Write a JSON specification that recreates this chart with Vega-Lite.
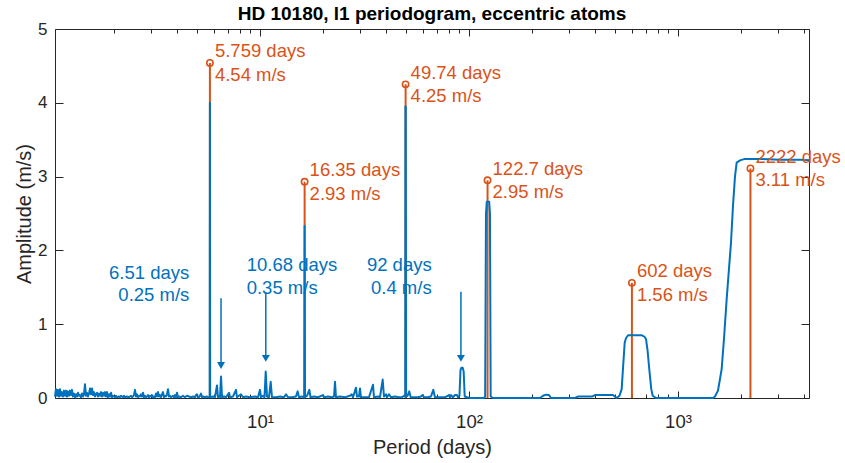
{
  "$schema": "https://vega.github.io/schema/vega-lite/v6.json",
  "width": 754,
  "height": 369,
  "autosize": {"type": "none"},
  "padding": {"left": 55, "top": 29, "right": 36, "bottom": 65},
  "background": "white",
  "title": {"text": "HD 10180, l1 periodogram, eccentric atoms", "font": "Liberation Sans", "fontSize": 19, "fontWeight": "bold", "color": "#000000", "offset": 4, "dy": 8, "anchor": "middle"},
  "config": {
    "view": {"stroke": "#262626", "strokeWidth": 1},
    "axis": {"grid": false, "domain": false, "labelFont": "Liberation Sans", "labelFontSize": 17, "labelColor": "#262626", "titleFont": "Liberation Sans", "titleFontSize": 20, "titleFontWeight": "normal", "titleColor": "#262626", "tickColor": "#262626", "tickWidth": 1}
  },
  "datasets": {
    "pgram": [
      {"p":1.045,"a":0.02},{"p":1.056,"a":0.12},{"p":1.068,"a":0.03},{"p":1.080,"a":0.11},{"p":1.092,"a":0.02},{"p":1.104,"a":0.12},{"p":1.116,"a":0.03},{"p":1.128,"a":0.08},{"p":1.141,"a":0.02},{"p":1.154,"a":0.10},{"p":1.167,"a":0.03},{"p":1.180,"a":0.10},{"p":1.193,"a":0.02},{"p":1.206,"a":0.09},{"p":1.219,"a":0.03},{"p":1.232,"a":0.10},{"p":1.246,"a":0.04},{"p":1.260,"a":0.11},{"p":1.274,"a":0.02},{"p":1.289,"a":0.06},{"p":1.303,"a":0.01},{"p":1.318,"a":0.05},{"p":1.332,"a":0.02},{"p":1.347,"a":0.07},{"p":1.361,"a":0.03},{"p":1.376,"a":0.04},{"p":1.392,"a":0.01},{"p":1.407,"a":0.06},{"p":1.423,"a":0.02},{"p":1.438,"a":0.05},{"p":1.454,"a":0.185},{"p":1.470,"a":0.03},{"p":1.487,"a":0.07},{"p":1.503,"a":0.02},{"p":1.520,"a":0.06},{"p":1.537,"a":0.13},{"p":1.554,"a":0.05},{"p":1.571,"a":0.13},{"p":1.588,"a":0.04},{"p":1.606,"a":0.08},{"p":1.624,"a":0.02},{"p":1.642,"a":0.05},{"p":1.660,"a":0.07},{"p":1.678,"a":0.02},{"p":1.697,"a":0.06},{"p":1.716,"a":0.03},{"p":1.735,"a":0.08},{"p":1.754,"a":0.02},{"p":1.773,"a":0.07},{"p":1.793,"a":0.03},{"p":1.813,"a":0.08},{"p":1.833,"a":0.02},{"p":1.853,"a":0.08},{"p":1.873,"a":0.01},{"p":1.894,"a":0.05},{"p":1.915,"a":0.02},{"p":1.937,"a":0.07},{"p":1.958,"a":0.01},{"p":1.980,"a":0.03},{"p":2.024,"a":0.01},{"p":2.046,"a":0.03},{"p":2.069,"a":0.01},{"p":2.115,"a":0.02},{"p":2.138,"a":0.01},{"p":2.162,"a":0.03},{"p":2.211,"a":0.01},{"p":2.235,"a":0.03},{"p":2.260,"a":0.01},{"p":2.310,"a":0.02},{"p":2.362,"a":0.01},{"p":2.414,"a":0.03},{"p":2.441,"a":0.01},{"p":2.468,"a":0.02},{"p":2.495,"a":0.04},{"p":2.523,"a":0.11},{"p":2.551,"a":0.02},{"p":2.579,"a":0.05},{"p":2.608,"a":0.01},{"p":2.637,"a":0.03},{"p":2.666,"a":0.02},{"p":2.695,"a":0.05},{"p":2.725,"a":0.02},{"p":2.755,"a":0.07},{"p":2.786,"a":0.01},{"p":2.817,"a":0.03},{"p":2.848,"a":0.01},{"p":2.880,"a":0.02},{"p":2.912,"a":0.04},{"p":2.944,"a":0.01},{"p":2.977,"a":0.03},{"p":3.009,"a":0.02},{"p":3.042,"a":0.04},{"p":3.076,"a":0.01},{"p":3.110,"a":0.02},{"p":3.145,"a":0.01},{"p":3.180,"a":0.06},{"p":3.215,"a":0.02},{"p":3.250,"a":0.08},{"p":3.286,"a":0.02},{"p":3.323,"a":0.04},{"p":3.360,"a":0.01},{"p":3.397,"a":0.05},{"p":3.434,"a":0.08},{"p":3.472,"a":0.01},{"p":3.511,"a":0.03},{"p":3.550,"a":0.02},{"p":3.589,"a":0.05},{"p":3.629,"a":0.12},{"p":3.669,"a":0.02},{"p":3.710,"a":0.03},{"p":3.751,"a":0.01},{"p":3.834,"a":0.03},{"p":3.877,"a":0.01},{"p":3.920,"a":0.04},{"p":3.963,"a":0.01},{"p":4.007,"a":0.07},{"p":4.051,"a":0.01},{"p":4.096,"a":0.02},{"p":4.188,"a":0.01},{"p":4.281,"a":0.03},{"p":4.376,"a":0.01},{"p":4.474,"a":0.03},{"p":4.573,"a":0.02},{"p":4.675,"a":0.01},{"p":4.779,"a":0.02},{"p":4.886,"a":0.01},{"p":4.940,"a":0.04},{"p":4.995,"a":0.05},{"p":5.050,"a":0.01},{"p":5.106,"a":0.01},{"p":5.163,"a":0.03},{"p":5.220,"a":0.06},{"p":5.278,"a":0.01},{"p":5.336,"a":0.02},{"p":5.455,"a":0.01},{"p":5.577,"a":0.02},{"p":5.650,"a":0.01},{"p":5.745,"a":0.01},{"p":5.759,"a":4.0},{"p":5.775,"a":0.01},{"p":5.958,"a":0.02},{"p":6.091,"a":0.01},{"p":6.226,"a":0.17},{"p":6.295,"a":0.01},{"p":6.365,"a":0.02},{"p":6.436,"a":0.01},{"p":6.51,"a":0.29},{"p":6.58,"a":0.01},{"p":6.726,"a":0.02},{"p":6.876,"a":0.01},{"p":7.107,"a":0.07},{"p":7.186,"a":0.01},{"p":7.427,"a":0.02},{"p":7.676,"a":0.11},{"p":7.761,"a":0.01},{"p":8.111,"a":0.05},{"p":8.292,"a":0.01},{"p":8.57,"a":0.02},{"p":8.957,"a":0.01},{"p":9.464,"a":0.02},{"p":9.782,"a":0.01},{"p":10.0,"a":0.11},{"p":10.11,"a":0.01},{"p":10.34,"a":0.03},{"p":10.51,"a":0.01},{"p":10.65,"a":0.36},{"p":10.80,"a":0.02},{"p":11.04,"a":0.01},{"p":11.25,"a":0.22},{"p":11.41,"a":0.01},{"p":11.93,"a":0.01},{"p":12.46,"a":0.02},{"p":13.02,"a":0.01},{"p":13.32,"a":0.05},{"p":13.61,"a":0.01},{"p":14.22,"a":0.01},{"p":14.86,"a":0.02},{"p":15.15,"a":0.09},{"p":15.37,"a":0.01},{"p":15.88,"a":0.02},{"p":16.28,"a":0.01},{"p":16.35,"a":2.33},{"p":16.42,"a":0.01},{"p":16.78,"a":0.03},{"p":17.22,"a":0.11},{"p":17.45,"a":0.01},{"p":18.13,"a":0.02},{"p":18.94,"a":0.01},{"p":20.02,"a":0.04},{"p":20.24,"a":0.01},{"p":21.15,"a":0.02},{"p":22.1,"a":0.01},{"p":22.6,"a":0.02},{"p":22.85,"a":0.22},{"p":23.1,"a":0.01},{"p":24.1,"a":0.02},{"p":25.51,"a":0.01},{"p":26.95,"a":0.03},{"p":27.47,"a":0.05},{"p":27.86,"a":0.01},{"p":28.8,"a":0.14},{"p":29.11,"a":0.02},{"p":29.76,"a":0.02},{"p":30.09,"a":0.13},{"p":30.42,"a":0.01},{"p":31.79,"a":0.01},{"p":33.23,"a":0.01},{"p":34.73,"a":0.18},{"p":35.11,"a":0.01},{"p":36.7,"a":0.02},{"p":37.51,"a":0.01},{"p":38.64,"a":0.25},{"p":39.2,"a":0.02},{"p":40.08,"a":0.05},{"p":40.5,"a":0.01},{"p":41.42,"a":0.05},{"p":42.34,"a":0.01},{"p":44.25,"a":0.02},{"p":46.24,"a":0.01},{"p":47.8,"a":0.01},{"p":48.85,"a":0.03},{"p":49.55,"a":0.02},{"p":49.65,"a":3.95},{"p":49.85,"a":3.95},{"p":50.0,"a":0.02},{"p":50.8,"a":0.03},{"p":51.8,"a":0.09},{"p":52.6,"a":0.01},{"p":54.5,"a":0.01},{"p":57.0,"a":0.01},{"p":58.92,"a":0.02},{"p":60.04,"a":0.04},{"p":60.9,"a":0.01},{"p":63.6,"a":0.01},{"p":65.78,"a":0.02},{"p":67.5,"a":0.11},{"p":68.75,"a":0.01},{"p":72.6,"a":0.01},{"p":76.75,"a":0.01},{"p":80.2,"a":0.04},{"p":81.1,"a":0.01},{"p":82.0,"a":0.04},{"p":83.8,"a":0.01},{"p":85.69,"a":0.04},{"p":87.6,"a":0.04},{"p":88.6,"a":0.01},{"p":90.05,"a":0.03},{"p":91.06,"a":0.38},{"p":92.0,"a":0.41},{"p":93.3,"a":0.41},{"p":94.3,"a":0.36},{"p":95.4,"a":0.02},{"p":97.8,"a":0.01},{"p":101.1,"a":0.0},{"p":117.9,"a":0.0},{"p":119.5,"a":0.02},{"p":120.6,"a":2.5},{"p":121.7,"a":2.66},{"p":124.9,"a":2.66},{"p":126.0,"a":2.5},{"p":127.0,"a":0.02},{"p":130.2,"a":0.0},{"p":218.7,"a":0.0},{"p":226.0,"a":0.03},{"p":233.6,"a":0.045},{"p":241.4,"a":0.04},{"p":246.8,"a":0.0},{"p":321.5,"a":0.0},{"p":332.3,"a":0.02},{"p":387.7,"a":0.02},{"p":400.8,"a":0.04},{"p":488.6,"a":0.04},{"p":509.0,"a":0.0},{"p":525.0,"a":0.03},{"p":537.8,"a":0.12},{"p":545.6,"a":0.4},{"p":556.0,"a":0.75},{"p":564.0,"a":0.81},{"p":576.6,"a":0.85},{"p":589.3,"a":0.85},{"p":672.6,"a":0.85},{"p":691.3,"a":0.83},{"p":703.0,"a":0.8},{"p":715.0,"a":0.65},{"p":729.0,"a":0.39},{"p":745.0,"a":0.12},{"p":757.0,"a":0.03},{"p":784.8,"a":0.0},{"p":1471,"a":0.0},{"p":1503,"a":0.02},{"p":1554,"a":0.1},{"p":1618,"a":0.39},{"p":1660,"a":0.8},{"p":1710,"a":1.34},{"p":1754,"a":1.75},{"p":1793,"a":2.1},{"p":1833,"a":2.6},{"p":1874,"a":3.0},{"p":1909,"a":3.19},{"p":1980,"a":3.22},{"p":2092,"a":3.24},{"p":2468,"a":3.24},{"p":3076,"a":3.23},{"p":3835,"a":3.23},{"p":4236,"a":3.22}
    ],
    "peaks": [
      {"p":5.759,"a":4.54,"l1":"5.759 days","l2":"4.54 m/s"},
      {"p":16.35,"a":2.93,"l1":"16.35 days","l2":"2.93 m/s"},
      {"p":49.74,"a":4.25,"l1":"49.74 days","l2":"4.25 m/s"},
      {"p":122.7,"a":2.95,"l1":"122.7 days","l2":"2.95 m/s"},
      {"p":602,"a":1.56,"l1":"602 days","l2":"1.56 m/s"},
      {"p":2222,"a":3.11,"l1":"2222 days","l2":"3.11 m/s"}
    ],
    "notesRight": [
      {"p":4.589,"a":1.687,"t":"6.51 days"},
      {"p":4.589,"a":1.390,"t":"0.25 m/s"},
      {"p":66.3,"a":1.796,"t":"92 days"},
      {"p":66.3,"a":1.494,"t":"0.4 m/s"}
    ],
    "notesLeft": [
      {"p":8.637,"a":1.796,"t":"10.68 days"},
      {"p":8.637,"a":1.494,"t":"0.35 m/s"}
    ],
    "arrows": [
      {"p":6.51,"top":1.35,"head":0.44},
      {"p":10.66,"top":1.43,"head":0.537},
      {"p":91.5,"top":1.44,"head":0.537}
    ]
  },
  "resolve": {"axis": {"x": "independent", "y": "independent"}},
  "layer": [
    {
      "data": {"name": "peaks"},
      "mark": {"type": "rule", "color": "#D95319", "strokeWidth": 2},
      "encoding": {
        "x": {"field": "p", "type": "quantitative", "scale": {"type": "log", "domain": [1.045, 4236], "nice": false},
              "axis": {"orient": "bottom", "values": [10, 100, 1000], "ticks": false, "labelExpr": "datum.value == 10 ? '10¹' : datum.value == 100 ? '10²' : '10³'", "labelFontSize": 18.5, "labelBaseline": "alphabetic", "labelPadding": 29, "title": "Period (days)", "titlePadding": 7}},
        "y": {"field": "a", "type": "quantitative", "scale": {"domain": [0, 5], "nice": false},
              "axis": {"orient": "left", "values": [0, 1, 2, 3, 4, 5], "ticks": false, "format": "d", "labelPadding": 8, "title": "Amplitude (m/s)", "titlePadding": 3}},
        "y2": {"datum": 0}
      }
    },
    {
      "data": {"name": "pgram"},
      "mark": {"type": "line", "color": "#0072BD", "strokeWidth": 2, "strokeJoin": "round"},
      "encoding": {
        "x": {"field": "p", "type": "quantitative", "axis": {"orient": "bottom", "values": [10, 100, 1000], "labels": false, "tickSize": -7, "title": null}},
        "y": {"field": "a", "type": "quantitative", "axis": {"orient": "right", "values": [0, 1, 2, 3, 4, 5], "labels": false, "tickSize": -8, "title": null}}
      }
    },
    {
      "data": {"name": "peaks"},
      "mark": {"type": "point", "shape": "circle", "size": 40, "filled": false, "stroke": "#D95319", "strokeWidth": 1.6, "opacity": 1},
      "encoding": {
        "x": {"field": "p", "type": "quantitative", "axis": {"orient": "top", "values": [10, 100, 1000], "labels": false, "tickSize": -7, "title": null}},
        "y": {"field": "a", "type": "quantitative", "axis": {"orient": "left", "values": [0, 1, 2, 3, 4, 5], "labels": false, "tickSize": -8, "title": null}}
      }
    },
    {
      "data": {"name": "peaks"},
      "mark": {"type": "text", "align": "left", "baseline": "middle", "dx": 5, "dy": -11.5, "font": "Liberation Sans", "fontSize": 18.5, "color": "#D95319"},
      "encoding": {
        "x": {"field": "p", "type": "quantitative", "axis": {"orient": "bottom", "values": [2,3,4,5,6,7,8,9,20,30,40,50,60,70,80,90,200,300,400,500,600,700,800,900,2000,3000,4000], "labels": false, "tickSize": -4, "title": null}},
        "y": {"field": "a", "type": "quantitative", "axis": null},
        "text": {"field": "l1"}
      }
    },
    {
      "data": {"name": "peaks"},
      "mark": {"type": "text", "align": "left", "baseline": "middle", "dx": 5, "dy": 12, "font": "Liberation Sans", "fontSize": 18.5, "color": "#D95319"},
      "encoding": {
        "x": {"field": "p", "type": "quantitative", "axis": {"orient": "top", "values": [2,3,4,5,6,7,8,9,20,30,40,50,60,70,80,90,200,300,400,500,600,700,800,900,2000,3000,4000], "labels": false, "tickSize": -4, "title": null}},
        "y": {"field": "a", "type": "quantitative", "axis": null},
        "text": {"field": "l2"}
      }
    },
    {
      "data": {"name": "notesRight"},
      "mark": {"type": "text", "align": "right", "baseline": "middle", "font": "Liberation Sans", "fontSize": 18.5, "color": "#0072BD"},
      "encoding": {
        "x": {"field": "p", "type": "quantitative", "axis": null},
        "y": {"field": "a", "type": "quantitative", "axis": null},
        "text": {"field": "t"}
      }
    },
    {
      "data": {"name": "notesLeft"},
      "mark": {"type": "text", "align": "left", "baseline": "middle", "font": "Liberation Sans", "fontSize": 18.5, "color": "#0072BD"},
      "encoding": {
        "x": {"field": "p", "type": "quantitative", "axis": null},
        "y": {"field": "a", "type": "quantitative", "axis": null},
        "text": {"field": "t"}
      }
    },
    {
      "data": {"name": "arrows"},
      "mark": {"type": "rule", "color": "#0072BD", "strokeWidth": 1.5},
      "encoding": {
        "x": {"field": "p", "type": "quantitative", "axis": null},
        "y": {"field": "top", "type": "quantitative", "axis": null},
        "y2": {"field": "head"}
      }
    },
    {
      "data": {"name": "arrows"},
      "mark": {"type": "point", "shape": "triangle-down", "size": 64, "filled": true, "color": "#0072BD", "opacity": 1},
      "encoding": {
        "x": {"field": "p", "type": "quantitative", "axis": null},
        "y": {"field": "head", "type": "quantitative", "axis": null}
      }
    }
  ]
}
